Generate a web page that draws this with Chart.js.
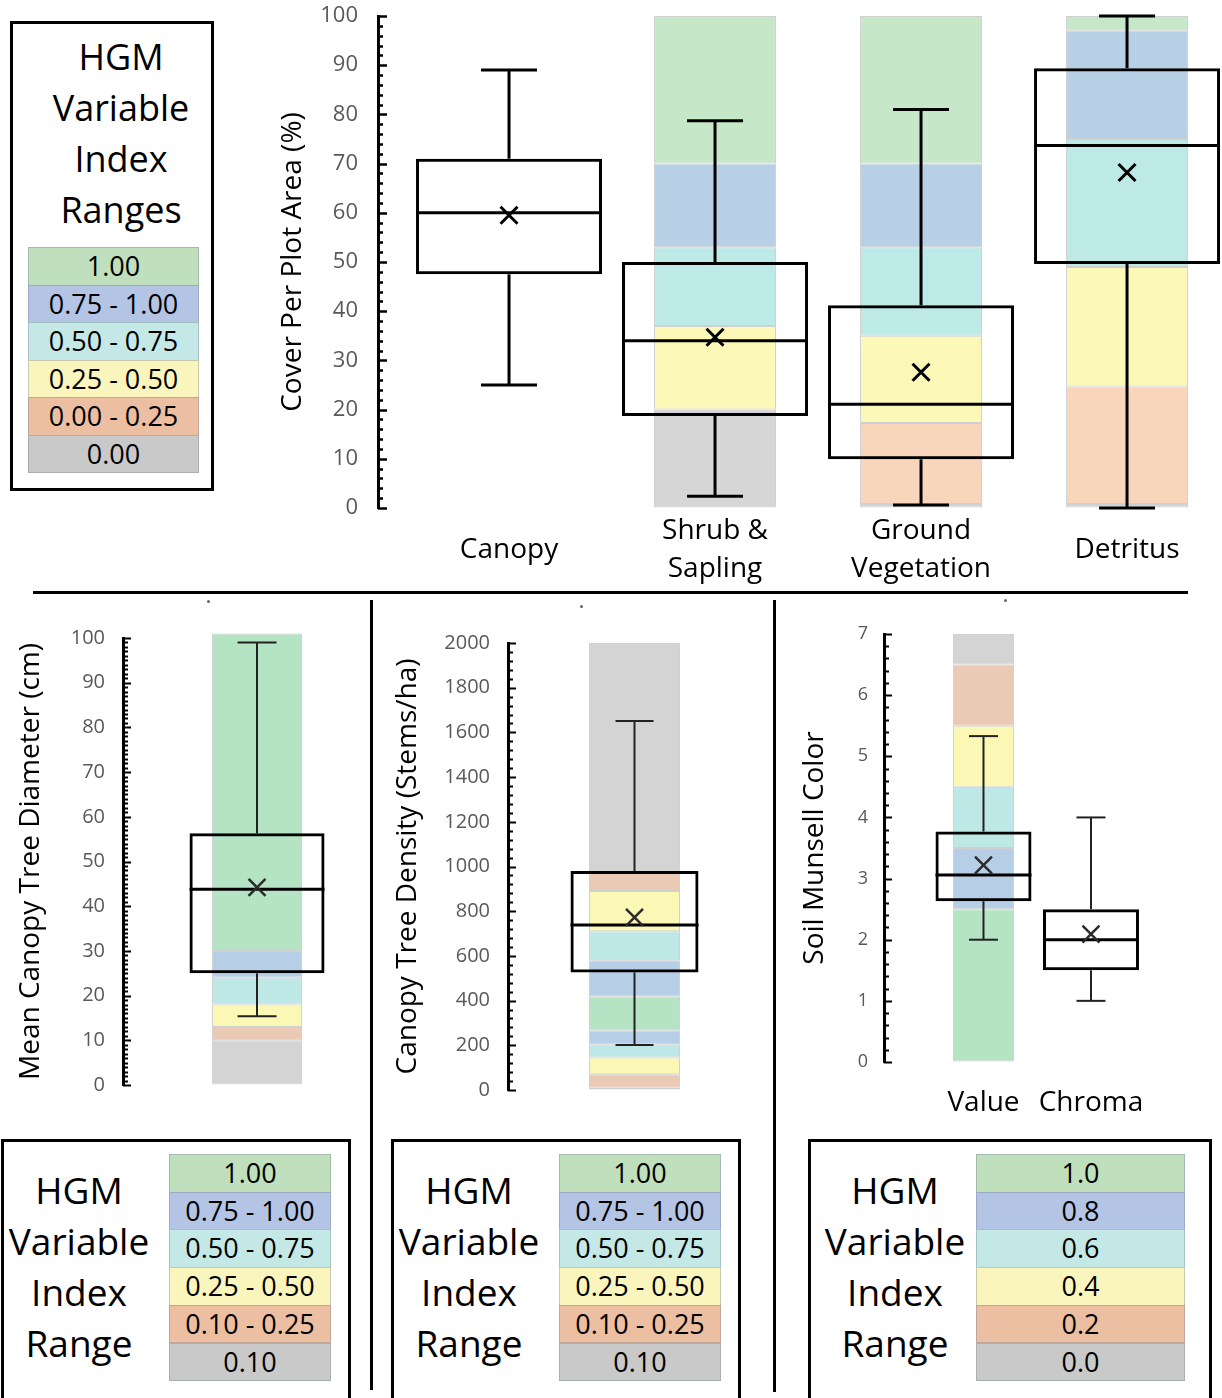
<!DOCTYPE html>
<html><head><meta charset="utf-8">
<script src="https://cdn.jsdelivr.net/npm/chart.js@4.4.1/dist/chart.umd.min.js"></script>
<style>
html,body{margin:0;padding:0;background:#fff;}
body{width:1222px;height:1398px;position:relative;overflow:hidden;font-family:'Open Sans',sans-serif;color:#000;}
canvas{position:absolute;}
.box{position:absolute;border:3px solid #000;box-sizing:border-box;}
.ttl{position:absolute;text-align:center;line-height:51px;color:#000;white-space:nowrap;}
.cell{position:absolute;text-align:center;font-size:27px;color:#000;box-sizing:border-box;border:1px solid rgba(110,120,140,0.35);}
.ln{position:absolute;background:#000;}
.dot{position:absolute;width:3px;height:3px;border-radius:2px;background:#666;}
</style></head><body>
<canvas id="cTop" width="952" height="600" style="left:270px;top:0px"></canvas>
<canvas id="cDia" width="368" height="520" style="left:0px;top:600px"></canvas>
<canvas id="cDen" width="398" height="520" style="left:374px;top:600px"></canvas>
<canvas id="cMun" width="445" height="530" style="left:777px;top:600px"></canvas>
<div id="legends"></div>
<script>
// ---------- DATA ----------
// Top panel: cover per plot area (%)
const coverCategories = [['Canopy'], ['Shrub &', 'Sapling'], ['Ground', 'Vegetation'], ['Detritus']];
const coverMin    = [25, 2.4, 0.6, 0];
const coverQ1     = [47.5, 18.7, 9.9, 49.6];
const coverMedian = [60, 34, 21.1, 73.7];
const coverQ3     = [71, 50, 41.2, 89.4];
const coverMax    = [89, 78.7, 81, 100];
const coverMean   = [59.5, 34.7, 27.6, 68.2];
// index bands (class 0 = best/green ... 5 = gray)
const shrubBreaks = [0, 20, 37, 53, 70, 100];
const shrubBandClass = [5, 3, 2, 1, 0];
const groundBreaks = [0, 0.8, 17.3, 35, 53, 70, 100];
const groundBandClass = [5, 4, 3, 2, 1, 0];
const detritusBreaks = [0, 0.8, 24.7, 49, 75, 97, 100];
const detritusBandClass = [5, 4, 3, 2, 1, 0];

// Mean canopy tree diameter (cm)
const diameterStats = {min: 15.4, q1: 25, median: 43.8, q3: 56.3, max: 99, mean: 44.2};
const diameterBreaks = [0, 10, 13, 18, 24, 30, 101];
const diameterBandClass = [5, 4, 3, 2, 1, 0];

// Canopy tree density (stems/ha)
const densityStats = {min: 201, q1: 526, median: 738, q3: 980, max: 1651, mean: 772};
const densityBreaks = [0, 10, 70, 145, 205, 265, 420, 580, 710, 890, 975, 2000];
const densityBandClass = [5, 4, 3, 2, 1, 0, 1, 2, 3, 4, 5];

// Soil Munsell color
const munsellCategories = ['Value', 'Chroma'];
const munsellMin    = [2.0, 1.0];
const munsellQ1     = [2.63, 1.5];
const munsellMedian = [3.06, 2.0];
const munsellQ3     = [3.77, 2.5];
const munsellMax    = [5.33, 4.0];
const munsellMean   = [3.22, 2.09];
const munsellValueBreaks = [0, 2.5, 3.5, 4.5, 5.5, 6.5, 7];
const munsellValueBandClass = [0, 1, 2, 3, 4, 5];

// Legend labels
const legendTopLabels = ['1.00', '0.75 - 1.00', '0.50 - 0.75', '0.25 - 0.50', '0.00 - 0.25', '0.00'];
const legendTreeLabels = ['1.00', '0.75 - 1.00', '0.50 - 0.75', '0.25 - 0.50', '0.10 - 0.25', '0.10'];
const legendMunsellLabels = ['1.0', '0.8', '0.6', '0.4', '0.2', '0.0'];

// ---------- STYLE ----------
const topBandColors = ['#c6e8c8', '#b8d0e6', '#bde9e6', '#fbf8b8', '#f8d5bb', '#d6d6d6'];
const lowBandColors = ['#b5e4c5', '#b7cfe6', '#bde8e6', '#fbf8b5', '#eac9b5', '#d4d4d4'];
const legendColors  = ['#c0dfbc', '#b4c4e4', '#c3e8e5', '#f9f5bd', '#ecbfa2', '#c9c9c9'];
const FONT = "'Open Sans', sans-serif";
Chart.defaults.font.family = FONT;

const innerTicks = {
  id: 'innerTicks',
  afterDraw(chart, args, o) {
    const s = chart.scales.y, ctx = chart.ctx;
    ctx.save();
    ctx.strokeStyle = '#000';
    ctx.lineWidth = o.width;
    s.ticks.forEach(t => {
      const y = Math.round(s.getPixelForValue(t.value)) + 0.5;
      const r = t.value / o.major;
      const major = Math.abs(r - Math.round(r)) < 1e-6;
      ctx.beginPath();
      ctx.moveTo(s.right, y);
      ctx.lineTo(s.right + (major ? o.majorLen : o.minorLen), y);
      ctx.stroke();
    });
    ctx.restore();
  }
};

function majorLabel(step) {
  return v => { const r = v / step; return Math.abs(r - Math.round(r)) < 1e-6 ? String(Math.round(r) * step) : ''; };
}

function bandDatasets(x, breaks, cls, colors, width) {
  const out = [];
  for (let i = 0; i < cls.length; i++) {
    out.push({type: 'bar', data: [{x: x, y: [breaks[i], breaks[i + 1]]}],
      backgroundColor: colors[cls[i]], borderColor: 'rgba(120,120,120,0.35)', borderWidth: 1,
      borderSkipped: false, barThickness: width, grouped: false, inflateAmount: 0, clip: false});
  }
  return out;
}

function boxDatasets(xs, mn, q1, md, q3, mx, av, st) {
  const pts = arr => xs.map((x, i) => ({x: x, y: arr[i]}));
  return [
    {type: 'scatter', data: pts(av), pointStyle: 'crossRot', pointRadius: st.meanR, pointBorderWidth: st.meanW,
      pointBorderColor: st.meanColor, pointBackgroundColor: 'rgba(0,0,0,0)', clip: false},
    {type: 'scatter', data: pts(md), pointStyle: 'line', pointRadius: st.boxW / 2, pointBorderWidth: st.medW,
      pointBorderColor: '#000', clip: false},
    {type: 'scatter', data: pts(mn).concat(pts(mx)), pointStyle: 'line', pointRadius: st.capR, pointBorderWidth: st.whW,
      pointBorderColor: st.whColor, clip: false},
    {type: 'bar', data: xs.map((x, i) => ({x: x, y: [q1[i], q3[i]]})), barThickness: st.boxW, borderWidth: st.boxBorder,
      borderColor: '#000', backgroundColor: 'rgba(0,0,0,0)', borderSkipped: false, grouped: false, inflateAmount: 0, clip: false},
    {type: 'bar', data: xs.map((x, i) => ({x: x, y: [mn[i], q1[i]]})), barThickness: st.whW, backgroundColor: st.whColor,
      borderWidth: 0, grouped: false, inflateAmount: 0, clip: false},
    {type: 'bar', data: xs.map((x, i) => ({x: x, y: [q3[i], mx[i]]})), barThickness: st.whW, backgroundColor: st.whColor,
      borderWidth: 0, grouped: false, inflateAmount: 0, clip: false}
  ];
}

function yScale(o) {
  return {
    type: 'linear', position: 'left', min: o.min, max: o.max,
    afterFit: s => { s.width = o.width; s.paddingTop = 0; s.paddingBottom = 0; },
    grid: {display: true, drawOnChartArea: false, drawTicks: false},
    border: {display: true, width: 3, color: '#000'},
    ticks: {stepSize: o.step, autoSkip: false, callback: majorLabel(o.major), padding: o.pad,
      color: '#595959', font: {size: o.fontSize}},
    title: {display: true, text: o.title, color: '#000', font: {size: 28, lineHeight: 1.2}, padding: {top: o.titlePad, bottom: 0}}
  };
}

function baseOptions(padding, scales, tickOpts) {
  return {
    responsive: false, animation: false, devicePixelRatio: 1,
    layout: {padding: padding, autoPadding: false},
    plugins: {legend: {display: false}, tooltip: {enabled: false}, innerTicks: tickOpts},
    events: [],
    scales: scales
  };
}

// ---------- TOP CHART ----------
const topStyle = {boxW: 186, boxBorder: 3, medW: 3, whW: 3, capR: 28, meanR: 12, meanW: 3, meanColor: '#000', whColor: '#000'};
const topX = coverCategories.map((c, i) => i + 1);
new Chart(document.getElementById('cTop'), {
  type: 'bar',
  data: {datasets: [].concat(
    boxDatasets(topX, coverMin, coverQ1, coverMedian, coverQ3, coverMax, coverMean, topStyle),
    bandDatasets(2, shrubBreaks, shrubBandClass, topBandColors, 122),
    bandDatasets(3, groundBreaks, groundBandClass, topBandColors, 122),
    bandDatasets(4, detritusBreaks, detritusBandClass, topBandColors, 122)
  )},
  options: baseOptions({top: 16, right: 0, bottom: 0, left: 0}, {
    x: {type: 'linear', min: 0.364, max: 4.461, offset: false,
      afterFit: s => { s.height = 92; },
      afterBuildTicks: s => { s.ticks = topX.map(v => ({value: v})); },
      grid: {display: false, drawTicks: false}, border: {display: false},
      ticks: {autoSkip: false, maxRotation: 0, crossAlign: 'center', padding: 23, color: '#000',
        font: {size: 28, lineHeight: 1.36}, callback: v => coverCategories[Math.round(v) - 1]}},
    y: yScale({min: 0, max: 100, width: 108, step: 2, major: 10, pad: 20, fontSize: 22,
      title: 'Cover Per Plot Area (%)', titlePad: 6})
  }, {major: 10, majorLen: 9, minorLen: 5, width: 2.5}),
  plugins: [innerTicks]
});

// ---------- DIAMETER ----------
const lowStyle = {boxBorder: 3, medW: 3, whW: 2, meanR: 12, meanW: 2.5, meanColor: '#2b2b2b', whColor: '#222'};
new Chart(document.getElementById('cDia'), {
  type: 'bar',
  data: {datasets: [].concat(
    boxDatasets([1], [diameterStats.min], [diameterStats.q1], [diameterStats.median], [diameterStats.q3], [diameterStats.max], [diameterStats.mean],
      Object.assign({}, lowStyle, {boxW: 135, capR: 19.5})),
    bandDatasets(1, diameterBreaks, diameterBandClass, lowBandColors, 90)
  )},
  options: baseOptions({top: 38, right: 0, bottom: 35, left: 0}, {
    x: {type: 'linear', display: false, min: 0, max: 1.828, offset: false},
    y: yScale({min: 0, max: 100, width: 123, step: 1, major: 10, pad: 18, fontSize: 20,
      title: 'Mean Canopy Tree Diameter (cm)', titlePad: 14})
  }, {major: 10, majorLen: 8, minorLen: 5, width: 2}),
  plugins: [innerTicks]
});

// ---------- DENSITY ----------
new Chart(document.getElementById('cDen'), {
  type: 'bar',
  data: {datasets: [].concat(
    boxDatasets([1], [densityStats.min], [densityStats.q1], [densityStats.median], [densityStats.q3], [densityStats.max], [densityStats.mean],
      Object.assign({}, lowStyle, {boxW: 128, capR: 19})),
    bandDatasets(1, densityBreaks, densityBandClass, lowBandColors, 91)
  )},
  options: baseOptions({top: 43, right: 0, bottom: 30, left: 0}, {
    x: {type: 'linear', display: false, min: 0, max: 2.087, offset: false},
    y: yScale({min: 0, max: 2000, width: 134, step: 40, major: 200, pad: 18, fontSize: 20,
      title: 'Canopy Tree Density (Stems/ha)', titlePad: 17})
  }, {major: 200, majorLen: 8, minorLen: 5, width: 2}),
  plugins: [innerTicks]
});

// ---------- MUNSELL ----------
const munX = munsellCategories.map((c, i) => i + 1);
new Chart(document.getElementById('cMun'), {
  type: 'bar',
  data: {datasets: [].concat(
    boxDatasets(munX, munsellMin, munsellQ1, munsellMedian, munsellQ3, munsellMax, munsellMean,
      Object.assign({}, lowStyle, {boxW: 96, capR: 14.5})),
    bandDatasets(1, munsellValueBreaks, munsellValueBandClass, lowBandColors, 61)
  )},
  options: baseOptions({top: 34, right: 0, bottom: 0, left: 0}, {
    x: {type: 'linear', min: 0.0744, max: 3.219, offset: false,
      afterFit: s => { s.height = 68; },
      afterBuildTicks: s => { s.ticks = munX.map(v => ({value: v})); },
      grid: {display: false, drawTicks: false}, border: {display: false},
      ticks: {autoSkip: false, maxRotation: 0, crossAlign: 'near', padding: 22, color: '#000',
        font: {size: 28, lineHeight: 1.36}, callback: v => munsellCategories[Math.round(v) - 1]}},
    y: yScale({min: 0, max: 7, width: 107, step: 0.2, major: 1, pad: 16, fontSize: 18,
      title: 'Soil Munsell Color', titlePad: 21})
  }, {major: 1, majorLen: 8, minorLen: 5, width: 2}),
  plugins: [innerTicks]
});

// ---------- LEGENDS, SEPARATORS ----------
const L = document.getElementById('legends');
function add(html) { L.insertAdjacentHTML('beforeend', html); }
function legend(box, titleLines, titleCx, titleTop, titleSize, cells, labels) {
  add(`<div class="box" style="left:${box[0]}px;top:${box[1]}px;width:${box[2]}px;height:${box[3]}px"></div>`);
  add(`<div class="ttl" style="left:${titleCx - 110}px;width:220px;top:${titleTop}px;font-size:${titleSize}px">${titleLines.join('<br>')}</div>`);
  labels.forEach((lab, i) => {
    const top = cells[1] + i * cells[3];
    add(`<div class="cell" style="left:${cells[0]}px;top:${top}px;width:${cells[2]}px;height:${cells[3] + 1}px;line-height:${cells[3] - 1}px;background:${legendColors[i]}">${lab}</div>`);
  });
}
legend([10, 21, 204, 470], ['HGM', 'Variable', 'Index', 'Ranges'], 121, 31, 36, [28, 247, 171, 37.5], legendTopLabels);
legend([1, 1139, 350, 262], ['HGM', 'Variable', 'Index', 'Range'], 79, 1164, 37, [169, 1154, 162, 37.7], legendTreeLabels);
legend([391, 1139, 350, 262], ['HGM', 'Variable', 'Index', 'Range'], 469, 1164, 37, [559, 1154, 162, 37.7], legendTreeLabels);
legend([808, 1139, 404, 262], ['HGM', 'Variable', 'Index', 'Range'], 895, 1164, 37, [976, 1154, 209, 37.7], legendMunsellLabels);

add('<div class="ln" style="left:33px;top:591px;width:1155px;height:3px"></div>');
add('<div class="ln" style="left:370px;top:600px;width:3px;height:790px"></div>');
add('<div class="ln" style="left:773px;top:600px;width:3px;height:792px"></div>');
add('<div class="dot" style="left:207px;top:600px"></div>');
add('<div class="dot" style="left:580px;top:605px"></div>');
add('<div class="dot" style="left:1004px;top:599px"></div>');
</script>
</body></html>
